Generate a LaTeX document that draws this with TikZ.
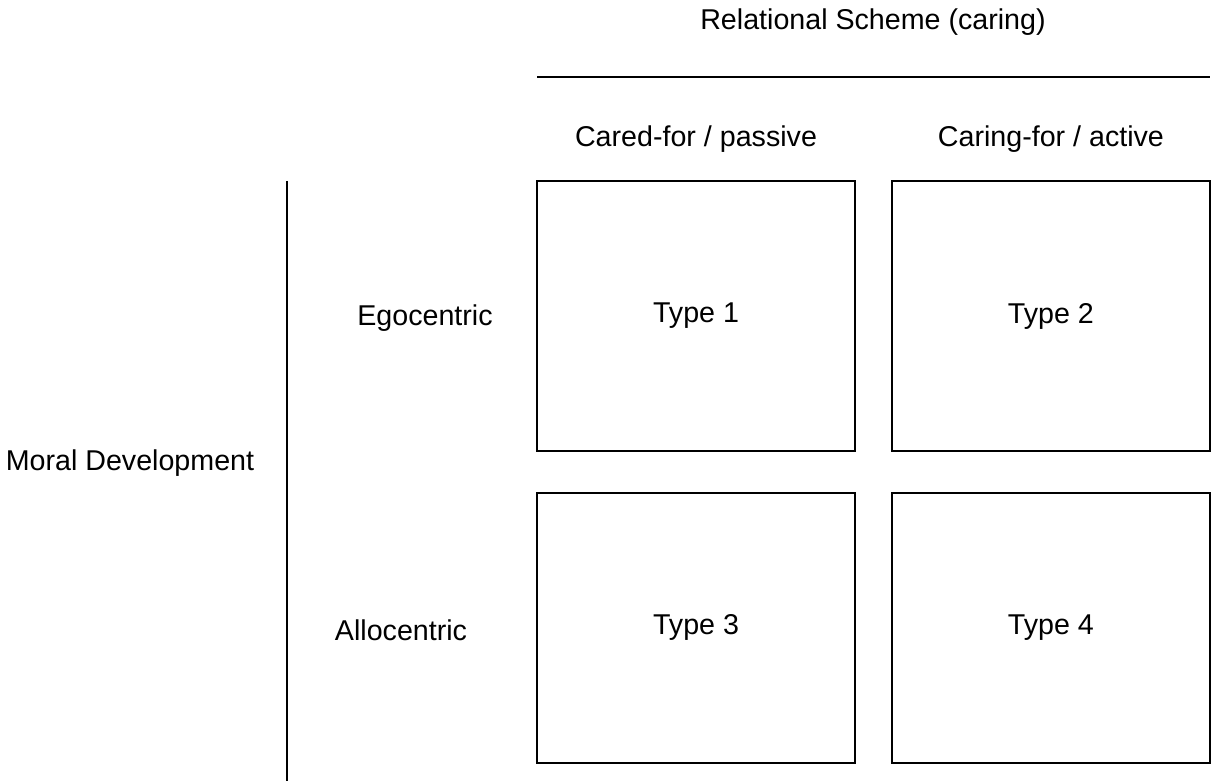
\documentclass[tikz,border=0pt]{standalone}
\usepackage{fontspec}
\setmainfont{Liberation Sans}
\usepackage{tikz}
\usetikzlibrary{positioning}
\tikzset{
  cell/.style={draw=black, line width=1.1pt, minimum width=6.36cm, minimum height=5.4cm, inner sep=0pt, outer sep=0pt, font=\fontsize{16.3}{19}\selectfont},
  lbl/.style={font=\fontsize{16.3}{19}\selectfont, inner sep=0pt}
}

\begin{document}
\begin{tikzpicture}[x=0.02cm, y=-0.02cm]
  \useasboundingbox (0,0) rectangle (1212,783);
  % quadrants
  \node[cell] (t1) at (696,316) {Type 1};
  \node[cell, right=0.74cm of t1] (t2) {Type 2};
  \node[cell, below=0.84cm of t1] (t3) {Type 3};
  \node[cell, below=0.84cm of t2] (t4) {Type 4};
  % column heads
  \node[lbl] (passive) at (t1.north |- 0,139) {Cared-for / passive};
  \node[lbl] (active) at (t2.north |- 0,139) {Caring-for / active};
  \coordinate (hl) at (537,77);
  \coordinate (hr) at (1210,77);
  \draw[line width=1.1pt] (hl) -- (hr);
  \node[lbl] (scheme) at (873,22) {Relational Scheme (caring)};
  % row heads
  \node[lbl] (ego) at (425,318) {Egocentric};
  \node[lbl] (allo) at (401,630) {Allocentric};
  \coordinate (vt) at (287,181);
  \coordinate (vb) at (287,781);
  \draw[line width=1.1pt] (vt) -- (vb);
  \node[lbl] (moral) at (130,463) {Moral Development};
\end{tikzpicture}
\end{document}
